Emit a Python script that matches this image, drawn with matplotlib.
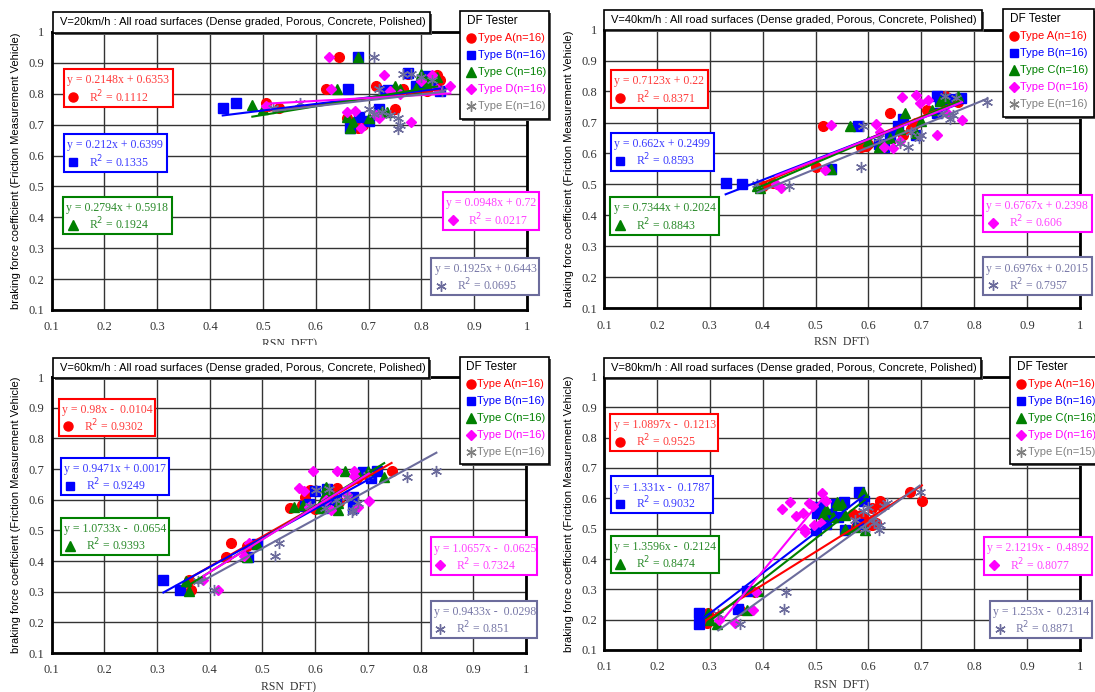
import numpy as np
import matplotlib.pyplot as plt
from matplotlib.patches import Rectangle
from matplotlib.lines import Line2D
from matplotlib.transforms import Bbox, TransformedBbox

# ---------------- data ----------------
type_names = ['A', 'B', 'C', 'D', 'E']

# V = 20 km/h
a20_x = [0.505, 0.53, 0.62, 0.645, 0.715, 0.75, 0.765, 0.775, 0.83, 0.835, 0.66, 0.68, 0.69, 0.73, 0.81, 0.72]
a20_y = [0.77, 0.755, 0.815, 0.92, 0.825, 0.75, 0.815, 0.865, 0.86, 0.845, 0.72, 0.69, 0.70, 0.81, 0.81, 0.745]
b20_x = [0.424, 0.45, 0.661, 0.681, 0.774, 0.79, 0.808, 0.736, 0.682, 0.701, 0.664, 0.72, 0.835, 0.73, 0.80, 0.82]
b20_y = [0.755, 0.77, 0.815, 0.92, 0.868, 0.826, 0.859, 0.812, 0.724, 0.711, 0.69, 0.75, 0.81, 0.81, 0.83, 0.84]
c20_x = [0.48, 0.50, 0.64, 0.68, 0.66, 0.665, 0.67, 0.725, 0.735, 0.75, 0.76, 0.80, 0.81, 0.83, 0.70, 0.79]
c20_y = [0.765, 0.75, 0.815, 0.92, 0.725, 0.69, 0.71, 0.745, 0.74, 0.825, 0.815, 0.865, 0.84, 0.855, 0.72, 0.82]
d20_x = [0.625, 0.628, 0.73, 0.74, 0.675, 0.685, 0.715, 0.78, 0.855, 0.80, 0.505, 0.72, 0.82, 0.76, 0.66, 0.83]
d20_y = [0.92, 0.815, 0.86, 0.81, 0.745, 0.69, 0.73, 0.71, 0.825, 0.84, 0.76, 0.72, 0.86, 0.80, 0.74, 0.815]
e20_x = [0.71, 0.765, 0.72, 0.70, 0.725, 0.755, 0.76, 0.755, 0.57, 0.52, 0.82, 0.80, 0.84, 0.78, 0.71, 0.74]
e20_y = [0.92, 0.865, 0.815, 0.75, 0.74, 0.72, 0.70, 0.685, 0.77, 0.755, 0.845, 0.855, 0.81, 0.865, 0.735, 0.73]
slope20 = [0.2148, 0.212, 0.2794, 0.0948, 0.1925]
icpt20 = [0.6353, 0.6399, 0.5918, 0.72, 0.6443]
r2_20 = [0.1112, 0.1335, 0.1924, 0.0217, 0.0695]
n20 = [16, 16, 16, 16, 16]

# V = 40 km/h
a40_x = [0.515, 0.64, 0.50, 0.585, 0.60, 0.40, 0.42, 0.69, 0.68, 0.665, 0.745, 0.77, 0.75, 0.71, 0.595, 0.395]
a40_y = [0.69, 0.73, 0.555, 0.62, 0.63, 0.495, 0.505, 0.70, 0.68, 0.66, 0.785, 0.765, 0.78, 0.74, 0.625, 0.49]
b40_x = [0.33, 0.36, 0.53, 0.58, 0.62, 0.64, 0.655, 0.665, 0.69, 0.73, 0.735, 0.74, 0.73, 0.775, 0.76, 0.63]
b40_y = [0.505, 0.50, 0.55, 0.69, 0.63, 0.655, 0.69, 0.71, 0.66, 0.785, 0.77, 0.775, 0.73, 0.78, 0.775, 0.62]
c40_x = [0.565, 0.67, 0.53, 0.62, 0.625, 0.64, 0.69, 0.70, 0.735, 0.745, 0.77, 0.39, 0.395, 0.66, 0.72, 0.60]
c40_y = [0.69, 0.73, 0.55, 0.62, 0.625, 0.65, 0.665, 0.705, 0.77, 0.78, 0.785, 0.495, 0.49, 0.68, 0.74, 0.64]
d40_x = [0.529, 0.518, 0.434, 0.425, 0.614, 0.621, 0.646, 0.664, 0.689, 0.697, 0.713, 0.73, 0.777, 0.748, 0.66, 0.63]
d40_y = [0.691, 0.548, 0.489, 0.50, 0.694, 0.67, 0.617, 0.781, 0.789, 0.764, 0.772, 0.659, 0.709, 0.731, 0.64, 0.62]
e40_x = [0.39, 0.45, 0.585, 0.59, 0.675, 0.66, 0.695, 0.70, 0.755, 0.76, 0.745, 0.825, 0.765, 0.68, 0.62, 0.74]
e40_y = [0.50, 0.495, 0.555, 0.69, 0.62, 0.635, 0.65, 0.66, 0.71, 0.725, 0.785, 0.765, 0.78, 0.67, 0.65, 0.73]
slope40 = [0.7123, 0.662, 0.7344, 0.6767, 0.6976]
icpt40 = [0.22, 0.2499, 0.2024, 0.2398, 0.2015]
r2_40 = [0.8371, 0.8593, 0.8843, 0.606, 0.7957]
n40 = [16, 16, 16, 16, 16]

# V = 60 km/h
a60_x = [0.361, 0.365, 0.431, 0.44, 0.553, 0.575, 0.58, 0.641, 0.646, 0.745, 0.62, 0.60, 0.68, 0.70, 0.59, 0.47]
a60_y = [0.339, 0.306, 0.414, 0.458, 0.572, 0.584, 0.61, 0.637, 0.594, 0.695, 0.60, 0.57, 0.67, 0.68, 0.63, 0.45]
b60_x = [0.312, 0.343, 0.472, 0.49, 0.588, 0.60, 0.623, 0.623, 0.671, 0.671, 0.69, 0.705, 0.717, 0.58, 0.614, 0.64]
b60_y = [0.337, 0.305, 0.413, 0.457, 0.586, 0.628, 0.635, 0.595, 0.61, 0.573, 0.69, 0.672, 0.693, 0.578, 0.572, 0.60]
c60_x = [0.355, 0.361, 0.471, 0.49, 0.56, 0.576, 0.609, 0.614, 0.644, 0.626, 0.657, 0.682, 0.70, 0.731, 0.644, 0.62]
c60_y = [0.336, 0.303, 0.413, 0.457, 0.575, 0.584, 0.573, 0.607, 0.565, 0.627, 0.692, 0.684, 0.695, 0.673, 0.59, 0.64]
d60_x = [0.388, 0.415, 0.465, 0.474, 0.569, 0.579, 0.596, 0.642, 0.674, 0.673, 0.661, 0.681, 0.702, 0.631, 0.588, 0.62]
d60_y = [0.337, 0.307, 0.415, 0.459, 0.638, 0.627, 0.692, 0.692, 0.695, 0.676, 0.614, 0.575, 0.595, 0.565, 0.575, 0.60]
e60_x = [0.378, 0.408, 0.523, 0.532, 0.601, 0.626, 0.671, 0.681, 0.774, 0.83, 0.618, 0.67, 0.66, 0.59, 0.64, 0.70]
e60_y = [0.334, 0.306, 0.415, 0.459, 0.63, 0.636, 0.565, 0.589, 0.674, 0.695, 0.573, 0.56, 0.61, 0.58, 0.60, 0.68]
slope60 = [0.98, 0.9471, 1.0733, 1.0657, 0.9433]
icpt60 = [-0.0104, 0.0017, -0.0654, -0.0625, -0.0298]
r2_60 = [0.9302, 0.9249, 0.9393, 0.7324, 0.851]
n60 = [16, 16, 16, 16, 16]

# V = 80 km/h
a80_x = [0.294, 0.297, 0.358, 0.386, 0.576, 0.586, 0.589, 0.606, 0.606, 0.621, 0.621, 0.678, 0.701, 0.596, 0.57, 0.615]
a80_y = [0.188, 0.221, 0.232, 0.292, 0.507, 0.546, 0.537, 0.513, 0.568, 0.590, 0.579, 0.622, 0.590, 0.518, 0.55, 0.52]
b80_x = [0.279, 0.280, 0.354, 0.371, 0.503, 0.50, 0.52, 0.538, 0.553, 0.543, 0.556, 0.583, 0.592, 0.506, 0.58, 0.53]
b80_y = [0.187, 0.221, 0.235, 0.295, 0.553, 0.495, 0.514, 0.582, 0.589, 0.54, 0.495, 0.62, 0.59, 0.57, 0.515, 0.55]
c80_x = [0.297, 0.313, 0.371, 0.391, 0.52, 0.54, 0.556, 0.556, 0.589, 0.593, 0.543, 0.533, 0.55, 0.575, 0.515, 0.30]
c80_y = [0.221, 0.185, 0.232, 0.293, 0.566, 0.588, 0.546, 0.50, 0.62, 0.495, 0.579, 0.54, 0.58, 0.505, 0.55, 0.20]
d80_x = [0.348, 0.382, 0.388, 0.436, 0.452, 0.463, 0.477, 0.479, 0.487, 0.497, 0.513, 0.520, 0.48, 0.51, 0.495, 0.318]
d80_y = [0.188, 0.233, 0.292, 0.565, 0.589, 0.541, 0.552, 0.50, 0.584, 0.513, 0.619, 0.59, 0.49, 0.52, 0.575, 0.20]
e80_x = [0.316, 0.358, 0.444, 0.440, 0.59, 0.594, 0.62, 0.609, 0.622, 0.635, 0.697, 0.60, 0.575, 0.61, 0.63]
e80_y = [0.22, 0.186, 0.292, 0.234, 0.558, 0.50, 0.495, 0.54, 0.513, 0.584, 0.62, 0.57, 0.53, 0.52, 0.575]
slope80 = [1.0897, 1.331, 1.3596, 2.1219, 1.253]
icpt80 = [-0.1213, -0.1787, -0.2124, -0.4892, -0.2314]
r2_80 = [0.9525, 0.9032, 0.8474, 0.8077, 0.8871]
n80 = [16, 16, 16, 16, 15]

ticks = [0.1, 0.2, 0.3, 0.4, 0.5, 0.6, 0.7, 0.8, 0.9, 1.0]
tick_labels = ['0.1', '0.2', '0.3', '0.4', '0.5', '0.6', '0.7', '0.8', '0.9', '1']

panels = {
    20: dict(xs=[a20_x, b20_x, c20_x, d20_x, e20_x], ys=[a20_y, b20_y, c20_y, d20_y, e20_y],
             slope=slope20, icpt=icpt20, r2=r2_20, n=n20),
    40: dict(xs=[a40_x, b40_x, c40_x, d40_x, e40_x], ys=[a40_y, b40_y, c40_y, d40_y, e40_y],
             slope=slope40, icpt=icpt40, r2=r2_40, n=n40),
    60: dict(xs=[a60_x, b60_x, c60_x, d60_x, e60_x], ys=[a60_y, b60_y, c60_y, d60_y, e60_y],
             slope=slope60, icpt=icpt60, r2=r2_60, n=n60),
    80: dict(xs=[a80_x, b80_x, c80_x, d80_x, e80_x], ys=[a80_y, b80_y, c80_y, d80_y, e80_y],
             slope=slope80, icpt=icpt80, r2=r2_80, n=n80),
}

# ---------------- layout / style ----------------
W, H = 1095, 692
colors = ['#ff0000', '#0000ff', '#008000', '#ff00ff', '#6c6c9c']
text_colors = ['#ff3a3a', '#3a3aff', '#2a8a2a', '#ff40ff', '#7676a6']
legend_colors = ['#ff0000', '#0000ff', '#008000', '#ff00ff', '#808080']
markers = ['o', 's', '^', 'D', (6, 2, 0)]
msizes = [7, 6.5, 7, 5.5, 8]

# pixel boxes (left, top, right, bottom)
axes_px = {20: (51.6, 32, 527, 310), 40: (604, 29.5, 1080, 308.5),
           60: (51.6, 377, 526, 653), 80: (604, 377, 1080, 650)}
title_px = {20: (52.6, 11.7, 429.7, 32.5), 40: (604, 10, 982, 30),
            60: (52.6, 357.7, 428.6, 378), 80: (604, 357.7, 980.7, 378)}
legend_px = {20: (460, 11, 549, 119), 40: (1003, 9.4, 1094, 117),
             60: (459.5, 357, 549, 464), 80: (1010, 357, 1101, 464)}
ylabel_xpx = {20: 16, 40: 569, 60: 16, 80: 569}
xlabel_ypx = {20: 338, 40: 336, 60: 681, 80: 679}

# equation boxes in data coords (x0, x1, y0, y1)
eq_boxes = {
    20: [(0.123, 0.329, 0.758, 0.880), (0.123, 0.318, 0.547, 0.670), (0.122, 0.328, 0.345, 0.467),
         (0.841, 1.022, 0.359, 0.482), (0.819, 1.022, 0.147, 0.269)],
    40: [(0.113, 0.296, 0.747, 0.869), (0.113, 0.308, 0.545, 0.667), (0.112, 0.318, 0.338, 0.459),
         (0.817, 1.022, 0.346, 0.465), (0.817, 1.022, 0.144, 0.265)],
    60: [(0.114, 0.297, 0.809, 0.928), (0.117, 0.322, 0.614, 0.736), (0.117, 0.323, 0.418, 0.540),
         (0.819, 1.021, 0.355, 0.477), (0.819, 1.021, 0.149, 0.271)],
    80: [(0.112, 0.316, 0.755, 0.878), (0.113, 0.306, 0.551, 0.672), (0.113, 0.318, 0.353, 0.477),
         (0.819, 1.022, 0.348, 0.472), (0.830, 1.022, 0.139, 0.263)],
}

fig = plt.figure(figsize=(W / 100, H / 100), dpi=100)


def fig_rect(x0, y0, x1, y1, **kw):
    r = Rectangle((x0 / W, 1 - y1 / H), (x1 - x0) / W, (y1 - y0) / H,
                  transform=fig.transFigure, **kw)
    fig.add_artist(r)


def eq_text(s, b):
    if b >= 0:
        return f"y = {s:g}x + {b:g}"
    return f"y = {s:g}x -  {-b:g}"


for speed, p in panels.items():
    l, t, r, b = axes_px[speed]
    ax = fig.add_axes([l / W, 1 - b / H, (r - l) / W, (b - t) / H])
    ax.set_xlim(0.1, 1.0)
    ax.set_ylim(0.1, 1.0)
    ax.set_xticks(ticks)
    ax.set_yticks(ticks)
    ax.set_xticklabels(tick_labels, fontfamily='Liberation Serif')
    ax.set_yticklabels(tick_labels, fontfamily='Liberation Serif')
    ax.tick_params(length=0, labelsize=9, colors='#333333')
    ax.tick_params(axis='x', pad=8)
    ax.tick_params(axis='y', pad=5)
    ax.grid(True, color='#333333', lw=1.0)
    ax.set_axisbelow(True)
    for sp in ax.spines.values():
        sp.set_linewidth(2)
        sp.set_color('black')

    # points
    for i in range(5):
        ax.plot(p['xs'][i], p['ys'][i], linestyle='none', marker=markers[i],
                color=colors[i], ms=msizes[i], mew=1.0, zorder=3)
    # trend lines
    for i in range(5):
        xx = np.array([min(p['xs'][i]), max(p['xs'][i])])
        ax.plot(xx, p['slope'][i] * xx + p['icpt'][i], color=colors[i], lw=1.5, zorder=4)

    # equation boxes
    for i in range(5):
        x0, x1, y0, y1 = eq_boxes[speed][i]
        h = y1 - y0
        ax.add_patch(Rectangle((x0, y0), x1 - x0, h, fc='white', ec=colors[i], lw=1.5,
                               clip_on=False, zorder=6))
        ax.text(x0 + 0.006, y0 + 0.70 * h, eq_text(p['slope'][i], p['icpt'][i]),
                color=text_colors[i], fontsize=8.5, family='Liberation Serif',
                va='center', ha='left', zorder=7, clip_on=False)
        ax.plot([x0 + 0.018], [y0 + 0.25 * h], marker=markers[i], color=colors[i],
                ms=msizes[i] - 0.5, mew=1.0, linestyle='none', clip_on=False, zorder=7)
        ax.text(x0 + 0.048, y0 + 0.27 * h, f"R$^2$ = {p['r2'][i]:g}",
                color=text_colors[i], fontsize=8.5, family='Liberation Serif',
                va='center', ha='left', zorder=7, clip_on=False)

    # title box
    tl, tt, tr, tb = title_px[speed]
    fig_rect(tl + 2, tt + 2, tr + 2, tb + 2, fc='#555555', ec='none', zorder=9)
    fig_rect(tl, tt, tr, tb, fc='white', ec='black', lw=1.2, zorder=10)
    fig.text((tl + 7) / W, 1 - (tt + tb) / 2 / H,
             f"V={speed}km/h : All road surfaces (Dense graded, Porous, Concrete, Polished)",
             fontsize=8, family='Liberation Sans', va='center', ha='left', zorder=11)

    # legend box
    gl, gt, gr, gb = legend_px[speed]
    fig_rect(gl + 2, gt + 2, gr + 2, gb + 2, fc='#555555', ec='none', zorder=9)
    fig_rect(gl, gt, gr, gb, fc='white', ec='black', lw=1.2, zorder=10)
    fig.text((gl + 6.5) / W, 1 - (gt + 10) / H, 'DF Tester', fontsize=8.5,
             family='Liberation Sans', va='center', ha='left', zorder=11)
    for i in range(5):
        yy = gt + 27 + 17 * i
        fig.add_artist(Line2D([(gl + 11) / W], [1 - yy / H], transform=fig.transFigure,
                              marker=markers[i], color=legend_colors[i],
                              ms=msizes[i] - 0.5, mew=1.0, linestyle='none', zorder=11))
        fig.text((gl + 17.5) / W, 1 - yy / H, f"Type {type_names[i]}(n={p['n'][i]})",
                 color=legend_colors[i], fontsize=8, family='Liberation Sans',
                 va='center', ha='left', zorder=11)

    # axis labels
    fig.text(ylabel_xpx[speed] / W, 1 - (t + b) / 2 / H,
             'braking force coefficient (Friction Measurement Vehicle)',
             rotation=90, fontsize=8, family='Liberation Sans', va='center', ha='center')
    xl = fig.text((l + r) / 2 / W, 1 - xlabel_ypx[speed] / H, 'RSN  DFT)', fontsize=8.5,
                  family='Liberation Serif', color='#333333', va='top', ha='center')
    if speed in (20, 40):
        xl.set_clip_box(TransformedBbox(Bbox.from_extents(0, 1 - 345 / H, 1, 1),
                                        fig.transFigure))
        xl.set_clip_on(True)

fig.savefig('out.png', dpi=100)
